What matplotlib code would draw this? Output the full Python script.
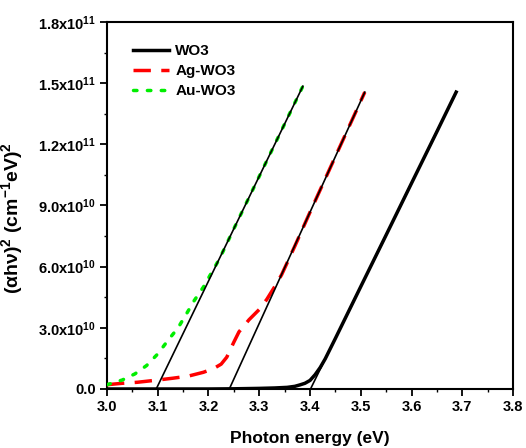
import numpy as np
import matplotlib
matplotlib.use("Agg")
import matplotlib.pyplot as plt
from matplotlib.ticker import MultipleLocator, FixedLocator, FixedFormatter

plt.rcParams['font.family'] = ['Liberation Sans', 'DejaVu Sans']
plt.rcParams['font.weight'] = 'bold'
plt.rcParams['mathtext.fontset'] = 'custom'
plt.rcParams['mathtext.rm'] = 'Liberation Sans:bold'
plt.rcParams['mathtext.bf'] = 'Liberation Sans:bold'
plt.rcParams['mathtext.it'] = 'Liberation Sans:bold'
plt.rcParams['mathtext.default'] = 'bf'

SCALE = 1e10

# WO3 (black solid)
wo3_x = [3.0, 3.1, 3.2, 3.25, 3.30, 3.33, 3.355, 3.37, 3.38, 3.39, 3.40, 3.41,
         3.42, 3.43, 3.45, 3.50, 3.55, 3.60, 3.65, 3.688]
wo3_y = [0, 0, 0, 0.01, 0.03, 0.05, 0.08, 0.13, 0.2, 0.28, 0.42, 0.7,
         1.05, 1.48, 2.48, 5.02, 7.55, 10.09, 12.62, 14.56]

# Ag-WO3 (red dashed)
ag_x = [3.0, 3.03, 3.06, 3.10, 3.13, 3.16, 3.19, 3.21, 3.225, 3.236, 3.25, 3.26,
        3.28, 3.30, 3.315, 3.33, 3.344, 3.37, 3.40, 3.45, 3.508]
ag_y = [0.21, 0.28, 0.33, 0.44, 0.53, 0.63, 0.82, 1.0, 1.22, 1.56, 2.3, 2.8,
        3.4, 3.9, 4.4, 5.0, 5.6, 7.0, 8.67, 11.4, 14.56]

# Au-WO3 (green dotted)
au_x = [3.0, 3.03, 3.055, 3.078, 3.10, 3.12, 3.14, 3.156, 3.172, 3.19, 3.205,
        3.222, 3.25, 3.30, 3.35, 3.386]
au_y = [0.21, 0.44, 0.74, 1.15, 1.72, 2.38, 3.0, 3.66, 4.34, 5.0, 5.66,
        6.4, 7.86, 10.43, 13.0, 14.85]

# Linear fits (Tauc extrapolation)
fit_au_x = [3.097, 3.386]
fit_au_y = [0, 14.85]
fit_ag_x = [3.241, 3.508]
fit_ag_y = [0, 14.56]
fit_wo3_x = [3.401, 3.688]
fit_wo3_y = [0, 14.56]

x_ticks = [3.0, 3.1, 3.2, 3.3, 3.4, 3.5, 3.6, 3.7, 3.8]
y_ticks = [0, 3.0e10, 6.0e10, 9.0e10, 1.2e11, 1.5e11, 1.8e11]
y_tick_labels = ["0.0", "3.0x10$^{10}$", "6.0x10$^{10}$", "9.0x10$^{10}$",
                 "1.2x10$^{11}$", "1.5x10$^{11}$", "1.8x10$^{11}$"]

fig = plt.figure(figsize=(5.26, 4.48), dpi=100)
ax = fig.add_axes([0.2034, 0.1317, 0.7719, 0.8193])

s = lambda v: np.array(v) * SCALE

ax.plot(wo3_x, s(wo3_y), color='black', lw=2.5, label='WO3', zorder=3)
ax.plot(ag_x, s(ag_y), color='#ff0000', lw=2.5, ls=(0, (5, 3)), label='Ag-WO3', zorder=3)
ax.plot(au_x, s(au_y), color='#00ee00', lw=2.5, ls=(0, (1, 3)),
        dash_capstyle='round', label='Au-WO3', zorder=3)

for fx, fy in [(fit_au_x, fit_au_y), (fit_ag_x, fit_ag_y), (fit_wo3_x, fit_wo3_y)]:
    ax.plot(fx, s(fy), color='black', lw=1.2, zorder=4)

ax.set_xlim(3.0, 3.8)
ax.set_ylim(0, 1.8e11)
ax.xaxis.set_major_locator(FixedLocator(x_ticks))
ax.set_xticklabels([f"{t:.1f}" for t in x_ticks])
ax.xaxis.set_minor_locator(MultipleLocator(0.05))
ax.yaxis.set_major_locator(FixedLocator(y_ticks))
ax.yaxis.set_major_formatter(FixedFormatter(y_tick_labels))
ax.yaxis.set_minor_locator(MultipleLocator(1.5e10))

ax.tick_params(which='major', direction='out', length=5, width=1.3, labelsize=10.5, pad=3)
ax.tick_params(which='minor', direction='out', length=2.5, width=1.0)
for sp in ax.spines.values():
    sp.set_linewidth(1.5)

ax.set_xlabel("Photon energy (eV)", fontsize=12.5, fontweight='bold', labelpad=12)
ax.set_ylabel("(\u03b1h\u03bd)$^2$ (cm$^{-1}$eV)$^2$", fontsize=14, fontweight='bold')
ax.yaxis.set_label_coords(-0.202, 0.467)

ax.legend(loc='upper left', bbox_to_anchor=(0.065, 0.94), frameon=False,
          fontsize=11, handlelength=2.3, handletextpad=0.45, labelspacing=0.4,
          borderaxespad=0, borderpad=0)

fig.savefig("out.png", dpi=100)
